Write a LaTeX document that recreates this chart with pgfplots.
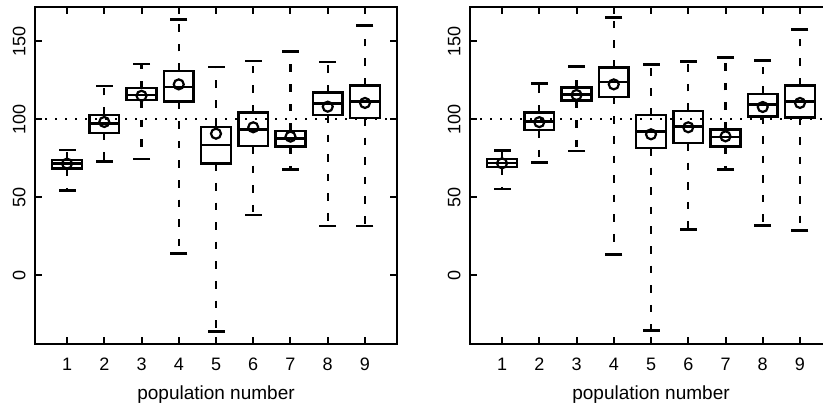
\documentclass[border=0pt]{standalone}
\usepackage{fontspec}
\setmainfont{Liberation Sans}
\usepackage{pgfplots}
\usepackage{pgfplotstable}
\pgfplotsset{compat=1.18}
\usepgfplotslibrary{statistics}

\pgfplotstableread{
pos lw lq med uq uw mean
1 54.0 68.4 71.6 73.9 80.1 71.4
2 72.9 91.2 97.2 102.6 121.2 98.1
3 74.4 112.2 115.4 119.7 135.3 114.9
4 13.9 111.1 120.7 130.8 163.9 122.2
5 -36.3 71.6 83.2 94.7 133.3 90.6
6 38.5 82.7 93.4 104.3 137.2 94.7
7 67.7 82.3 87.6 92.5 143.2 88.7
8 31.4 102.6 110.0 116.9 136.5 107.9
9 31.4 100.6 111.1 121.4 159.8 110.3
}\leftdata

\pgfplotstableread{
pos lw lq med uq uw mean
1 55.2 69.1 71.9 74.2 79.8 71.6
2 72.3 92.8 98.3 104.1 122.6 98.0
3 79.5 111.8 115.8 120.1 133.5 115.4
4 13.2 114.3 123.9 133.1 164.9 122.2
5 -35.4 81.4 91.9 102.4 134.8 90.2
6 29.4 84.6 95.1 105.1 136.9 94.7
7 67.6 82.5 88.5 93.2 139.3 88.9
8 31.5 101.7 109.2 116.2 137.3 107.7
9 28.3 100.9 111.1 121.4 157.6 110.3
}\rightdata

% draw position, lower whisker, lower quartile, median, upper quartile, upper whisker
\newcommand\bxp[6]{%
  \addplot[black, line width=1.2pt, solid, boxplot prepared={draw direction=y, draw position=#1, box extend=0.8, whisker extend=0, lower whisker=#2, lower quartile=#3, median=#4, upper quartile=#5, upper whisker=#6, every whisker/.style={dash pattern=on 3.8pt off 6pt}}] coordinates {};%
}

\pgfplotsset{
  panel/.style={
    scale only axis, width=181pt, height=168.5pt,
    anchor=south west,
    xmin=0.14, xmax=9.86, ymin=-44.2, ymax=171.8,
    xtick={1,...,9}, ytick={0,50,100,150},
    tick align=inside, major tick length=3.5pt,
    axis line style={line width=1pt, black},
    every tick/.style={line width=1pt, black},
    /pgf/number format/assume math mode=true,
    tick label style={font=\fontsize{9}{10}\selectfont},
    yticklabel style={rotate=90, anchor=south},
    yticklabel shift=1.2pt,
    xticklabel shift=3.3pt,
    xlabel={population number},
    xlabel style={font=\fontsize{9.5}{11}\selectfont, at={(axis description cs:0.5,0)}, anchor=center, yshift=-25.5pt},
    clip=false,
  },
}

\begin{document}
\begin{tikzpicture}
\begin{axis}[panel, at={(17.5pt,33pt)}]
  \addplot[black, line width=1pt, dash pattern=on 1pt off 4pt] coordinates {(0.14,100) (9.86,100)};
  \bxp{1}{54.0}{68.4}{71.6}{73.9}{80.1}
  \bxp{2}{72.9}{91.2}{97.2}{102.6}{121.2}
  \bxp{3}{74.4}{112.2}{115.4}{119.7}{135.3}
  \bxp{4}{13.9}{111.1}{120.7}{130.8}{163.9}
  \bxp{5}{-36.3}{71.6}{83.2}{94.7}{133.3}
  \bxp{6}{38.5}{82.7}{93.4}{104.3}{137.2}
  \bxp{7}{67.7}{82.3}{87.6}{92.5}{143.2}
  \bxp{8}{31.4}{102.6}{110.0}{116.9}{136.5}
  \bxp{9}{31.4}{100.6}{111.1}{121.4}{159.8}
  \addplot[only marks, mark=-, mark size=4.25pt, mark options={solid, line width=1.4pt, black}] table[x=pos, y=uw] {\leftdata};
  \addplot[only marks, mark=-, mark size=4.25pt, mark options={solid, line width=1.4pt, black}] table[x=pos, y=lw] {\leftdata};
  \addplot[only marks, mark=o, mark size=2.5pt, mark options={solid, line width=1.1pt, black}] table[x=pos, y=mean] {\leftdata};
\end{axis}
\begin{axis}[panel, at={(235pt,33pt)}]
  \addplot[black, line width=1pt, dash pattern=on 1pt off 4pt] coordinates {(0.14,100) (9.86,100)};
  \bxp{1}{55.2}{69.1}{71.9}{74.2}{79.8}
  \bxp{2}{72.3}{92.8}{98.3}{104.1}{122.6}
  \bxp{3}{79.5}{111.8}{115.8}{120.1}{133.5}
  \bxp{4}{13.2}{114.3}{123.9}{133.1}{164.9}
  \bxp{5}{-35.4}{81.4}{91.9}{102.4}{134.8}
  \bxp{6}{29.4}{84.6}{95.1}{105.1}{136.9}
  \bxp{7}{67.6}{82.5}{88.5}{93.2}{139.3}
  \bxp{8}{31.5}{101.7}{109.2}{116.2}{137.3}
  \bxp{9}{28.3}{100.9}{111.1}{121.4}{157.6}
  \addplot[only marks, mark=-, mark size=4.25pt, mark options={solid, line width=1.4pt, black}] table[x=pos, y=uw] {\rightdata};
  \addplot[only marks, mark=-, mark size=4.25pt, mark options={solid, line width=1.4pt, black}] table[x=pos, y=lw] {\rightdata};
  \addplot[only marks, mark=o, mark size=2.5pt, mark options={solid, line width=1.1pt, black}] table[x=pos, y=mean] {\rightdata};
\end{axis}
\pgfresetboundingbox
\path (0,0) rectangle (411.5pt,205pt);
\end{tikzpicture}
\end{document}
